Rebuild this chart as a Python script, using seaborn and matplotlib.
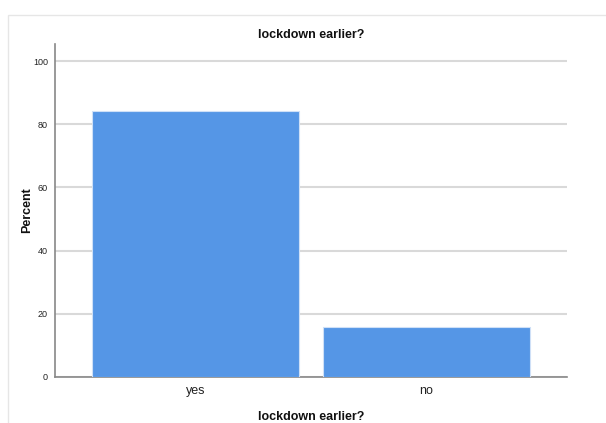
import matplotlib
matplotlib.use("Agg")
import matplotlib.pyplot as plt
import seaborn as sns
import pandas as pd
from matplotlib.patches import Rectangle

categories = ["yes", "no"]
percents = [84.2, 15.8]
yticks = [0, 20, 40, 60, 80, 100]

sns.set_theme(style="white")
plt.rcParams['font.family'] = ['Liberation Sans Narrow', 'Liberation Sans', 'DejaVu Sans']

df = pd.DataFrame({"cat": categories, "pct": percents})

fig = plt.figure(figsize=(6.06, 4.23), dpi=100)
fig.patches.append(Rectangle((8/606, -0.1), 1.2, 1 - 15/423 + 0.1, transform=fig.transFigure,
                             fill=False, edgecolor="#e6e6e6", linewidth=1.0))
ax = fig.add_axes([55/606, 1 - 377/423, (567 - 55)/606, (377 - 44)/423])

sns.barplot(data=df, x="cat", y="pct", order=categories, color="#5596e6",
            saturation=1, width=0.896, edgecolor="#cfe0f7", linewidth=0.8, ax=ax, zorder=3)

ax.set_xlim(-0.608, 1.608)
ax.set_ylim(0, 105.4)
ax.set_yticks(yticks)
ax.set_yticklabels([str(t) for t in yticks], fontsize=6.5, color="#222222")
ax.tick_params(axis="x", labelsize=9, colors="#222222", length=0, pad=6)
ax.tick_params(axis="y", length=3, width=0.8, color="#888888", pad=2)
ax.yaxis.grid(True, color="#d9d9d9", linewidth=1.5, zorder=0)
ax.set_axisbelow(True)
for s in ["top", "right"]:
    ax.spines[s].set_visible(False)
for s in ["left", "bottom"]:
    ax.spines[s].set_color("#888888")
    ax.spines[s].set_linewidth(1.2)

ax.set_xlabel("lockdown earlier?", fontsize=9, fontweight="bold", color="#111111", labelpad=9.5)
ax.set_ylabel("Percent", fontsize=9, fontweight="bold", color="#111111", labelpad=0)
ax.set_title("lockdown earlier?", fontsize=9, fontweight="bold", color="#111111", pad=4)

fig.savefig("out.png", dpi=100)
